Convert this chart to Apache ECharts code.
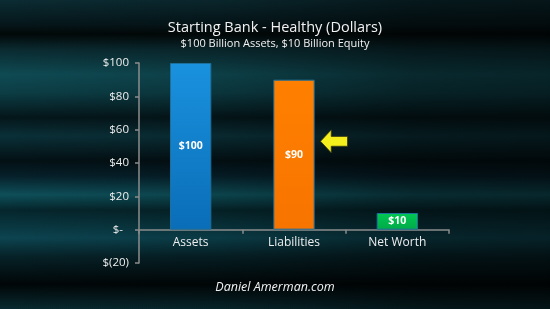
<!DOCTYPE html>
<html>
<head>
<meta charset="utf-8">
<script src="https://cdn.jsdelivr.net/npm/echarts@6/dist/echarts.min.js"></script>
<style>
html,body{margin:0;padding:0;background:#000;}
#c{width:550px;height:309px;
background:
 linear-gradient(to right, rgba(0,0,0,0) 0%, rgba(0,0,0,0.15) 40%, rgba(0,0,0,0.45) 75%, rgba(0,0,0,0.5) 100%),
 linear-gradient(to bottom,#0b2c33 0%,#05161a 8%,#020808 11%,#0a2a30 16%,#0f4a53 24%,#0c3d45 30%,#04161a 38%,#0a3038 44%,#031014 52%,#06202a 57%,#0e4f59 63%,#05252b 68%,#0c4450 77%,#062228 83%,#010607 92%,#082a30 100%);
}
</style>
</head>
<body>
<div id="c"></div>
<script>
var categories = ['Assets', 'Liabilities', 'Net Worth'];
var values = [100, 90, 10];
var barColors = [['#1a92de', '#0a6db8'], ['#ff8000', '#f77400'], ['#00c853', '#00aa48']];
var yTicks = {'100':'$100','80':'$80','60':'$60','40':'$40','20':'$20','0':'$-  ','-20':'$(20)'};
var arrowAt = ['Liabilities', 53];

var chart = echarts.init(document.getElementById('c'), null, {renderer:'canvas'});
var font = '"Open Sans", "Noto Sans", sans-serif';
chart.setOption({
  backgroundColor: 'transparent',
  animation: false,
  title: [{
    text: 'Starting Bank - Healthy (Dollars)',
    subtext: '$100 Billion Assets, $10 Billion Equity',
    left: 'center', top: 15, itemGap: 3,
    textStyle: {color:'#f2f2f2', fontFamily: font, fontSize: 14.5, fontWeight: 'normal'},
    subtextStyle: {color:'#f2f2f2', fontFamily: font, fontSize: 11, fontWeight: 'normal'}
  }, {
    text: 'Daniel Amerman.com',
    left: 'center', top: 276,
    textStyle: {color:'#f2f2f2', fontFamily: font, fontSize: 12.5, fontStyle:'italic', fontWeight:'normal'}
  }],
  grid: {left: 139, right: 101, top: 63, bottom: 46, containLabel: false},
  xAxis: {
    type: 'category', data: categories,
    axisLine: {onZero: true, lineStyle: {color:'#8c8c8c', width: 1.5}},
    axisTick: {show: true, length: 4, lineStyle: {color:'#8c8c8c', width: 1.5}},
    axisLabel: {color:'#eeeeee', fontFamily: font, fontSize: 12, margin: -26}
  },
  yAxis: {
    type: 'value', min: -20, max: 100, interval: 20,
    splitLine: {show: false},
    axisLine: {show: true, lineStyle: {color:'#8c8c8c', width: 1.5}},
    axisTick: {show: true, length: 4, lineStyle: {color:'#8c8c8c', width: 1.5}},
    axisLabel: {color:'#eeeeee', fontFamily: font, fontSize: 11.5, margin: 10,
      formatter: function(v){ return yTicks[String(v)] || ''; }}
  },
  series: [{
    type: 'bar', barWidth: '40%',
    data: values.map(function(v, i){
      return {value: v, itemStyle: {
        color: new echarts.graphic.LinearGradient(0,0,0,1,[{offset:0,color:barColors[i][0]},{offset:1,color:barColors[i][1]}]),
        borderColor: '#1d6f9c', borderWidth: 1}};
    }),
    label: {show: true, position: 'inside', color:'#ffffff', fontFamily: font, fontSize: 10.5, fontWeight: 'bold',
      formatter: function(p){ return '$' + p.value; }},
    markPoint: {
      symbol: 'path://M0,35 L33,0 L33,20 L83,20 L83,50 L33,50 L33,70 Z',
      symbolSize: [27, 23], symbolOffset: [40, 0], symbolKeepAspect: false,
      itemStyle: {color:'#f3ef1c', borderColor:'#3a3a10', borderWidth: 0.8},
      label: {show: false},
      data: [{coord: arrowAt}]
    }
  }]
});
</script>
</body>
</html>
